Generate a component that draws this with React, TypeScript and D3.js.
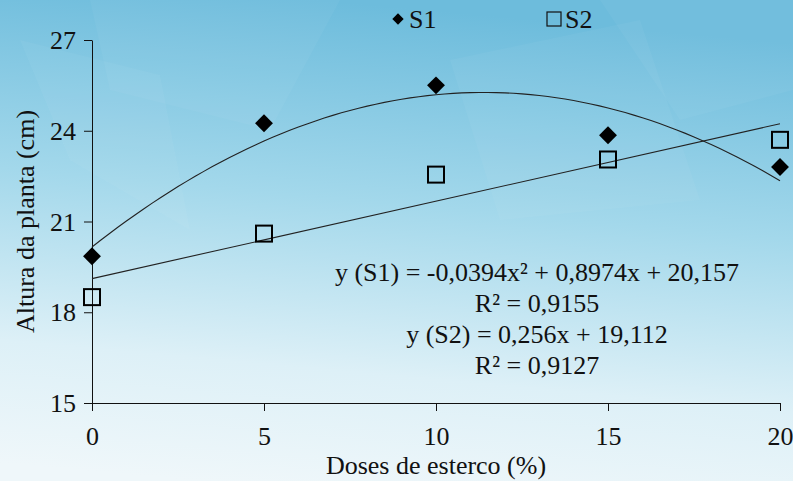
import React, { useEffect, useRef } from "react";
import * as d3 from "d3";

const doses = [0, 5, 10, 15, 20];
const s1Values = [19.85, 24.25, 25.5, 23.85, 22.8];
const s2Values = [18.5, 20.6, 22.55, 23.05, 23.7];
const xTicks = [0, 5, 10, 15, 20];
const yTicks = [15, 18, 21, 24, 27];
const s1Coef = [20.157, 0.8974, -0.0394];
const s2Coef = [19.112, 0.256];
const equationLines = [
  "y (S1) = -0,0394x² + 0,8974x + 20,157",
  "R² = 0,9155",
  "y (S2) = 0,256x + 19,112",
  "R² = 0,9127",
];

const W = 793;
const H = 481;
const FONT = "'Liberation Serif', 'Times New Roman', serif";
const FS = "26px";

const App = () => {
  const svgRef = useRef<SVGSVGElement>(null);

  useEffect(() => {
    const svg = d3.select(svgRef.current);
    svg.selectAll("*").remove();

    const margin = { top: 40, right: 13, bottom: 78, left: 92 };
    const x = d3.scaleLinear().domain([0, 20]).range([margin.left, W - margin.right]);
    const y = d3.scaleLinear().domain([15, 27]).range([H - margin.bottom, margin.top]);

    // fundo
    const defs = svg.append("defs");
    const grad = defs
      .append("linearGradient")
      .attr("id", "bg")
      .attr("x1", "0.4")
      .attr("y1", "0")
      .attr("x2", "0.25")
      .attr("y2", "1");
    grad.append("stop").attr("offset", "0%").attr("stop-color", "#6dbcdc");
    grad.append("stop").attr("offset", "40%").attr("stop-color", "#a3d8eb");
    grad.append("stop").attr("offset", "75%").attr("stop-color", "#ddf0f7");
    grad.append("stop").attr("offset", "100%").attr("stop-color", "#eff7fa");
    svg.append("rect").attr("width", W).attr("height", H).attr("fill", "url(#bg)");

    const shapes = [
      [[90, 0], [340, 0], [270, 130], [110, 90]],
      [[20, 40], [160, 75], [190, 230], [70, 160]],
      [[600, 0], [793, 0], [793, 90], [680, 120]],
      [[450, 60], [640, 20], [700, 200], [500, 220]],
    ];
    svg
      .append("g")
      .selectAll("path")
      .data(shapes)
      .join("path")
      .attr("d", (d) => "M" + d.map((p) => p.join(",")).join("L") + "Z")
      .attr("fill", "#ffffff")
      .attr("opacity", 0.04);

    const g = svg.append("g").style("font-family", FONT);

    // eixos
    const xAxis = g
      .append("g")
      .attr("transform", `translate(0,${y(15)})`)
      .call(d3.axisBottom(x).tickValues(xTicks).tickSize(8).tickSizeOuter(0));
    const yAxis = g
      .append("g")
      .attr("transform", `translate(${x(0)},0)`)
      .call(d3.axisLeft(y).tickValues(yTicks).tickSize(8).tickSizeOuter(0));
    [xAxis, yAxis].forEach((a) => {
      a.selectAll("path, line").attr("stroke", "#111").attr("stroke-width", 1);
      a.selectAll("text")
        .attr("fill", "#111")
        .style("font-family", FONT)
        .style("font-size", FS);
    });
    xAxis.selectAll("text").attr("y", 42).attr("dy", null);
    yAxis.selectAll("text").attr("x", -16).attr("dy", "0.33em");

    g.append("text")
      .attr("x", (x(0) + x(20)) / 2)
      .attr("y", 474)
      .attr("text-anchor", "middle")
      .attr("fill", "#111")
      .style("font-size", FS)
      .text("Doses de esterco (%)");

    g.append("text")
      .attr("transform", `translate(34,${(y(15) + y(27)) / 2}) rotate(-90)`)
      .attr("text-anchor", "middle")
      .attr("fill", "#111")
      .style("font-size", FS)
      .text("Altura da planta (cm)");

    // linhas de tendência
    const xs = d3.range(0, 20.01, 0.25);
    const quad = (v) => s1Coef[0] + s1Coef[1] * v + s1Coef[2] * v * v;
    const lin = (v) => s2Coef[0] + s2Coef[1] * v;
    const line = d3.line<number>().x((d) => x(d));
    g.append("path")
      .attr("d", line.y((d) => y(quad(d)))(xs))
      .attr("fill", "none")
      .attr("stroke", "#222")
      .attr("stroke-width", 1.1);
    g.append("path")
      .attr("d", line.y((d) => y(lin(d)))([0, 20]))
      .attr("fill", "none")
      .attr("stroke", "#222")
      .attr("stroke-width", 1.1);

    // pontos
    const diamond = d3.symbol().type(d3.symbolSquare).size(160);
    g.append("g")
      .selectAll("path")
      .data(doses)
      .join("path")
      .attr("d", diamond)
      .attr("transform", (d, i) => `translate(${x(d)},${y(s1Values[i])}) rotate(45)`)
      .attr("fill", "#000");

    g.append("g")
      .selectAll("rect")
      .data(doses)
      .join("rect")
      .attr("x", (d) => x(d) - 8)
      .attr("y", (d, i) => y(s2Values[i]) - 8)
      .attr("width", 16)
      .attr("height", 16)
      .attr("fill", "none")
      .attr("stroke", "#000")
      .attr("stroke-width", 2);

    // legenda
    const leg = g.append("g");
    leg
      .append("path")
      .attr("d", d3.symbol().type(d3.symbolSquare).size(64)())
      .attr("transform", "translate(398,19) rotate(45)")
      .attr("fill", "#000");
    leg
      .append("text")
      .attr("x", 409)
      .attr("y", 28)
      .attr("fill", "#111")
      .style("font-size", FS)
      .text("S1");
    leg
      .append("rect")
      .attr("x", 547)
      .attr("y", 12)
      .attr("width", 14)
      .attr("height", 14)
      .attr("fill", "none")
      .attr("stroke", "#111")
      .attr("stroke-width", 1.2);
    leg
      .append("text")
      .attr("x", 565)
      .attr("y", 28)
      .attr("fill", "#111")
      .style("font-size", FS)
      .text("S2");

    // equações
    g.append("g")
      .selectAll("text")
      .data(equationLines)
      .join("text")
      .attr("x", 537)
      .attr("y", (d, i) => 281 + i * 31)
      .attr("text-anchor", "middle")
      .attr("fill", "#111")
      .style("font-size", FS)
      .text((d) => d);
  }, []);

  return (
    <svg
      ref={svgRef}
      width={W}
      height={H}
      style={{ position: "absolute", left: 0, top: 0 }}
    ></svg>
  );
};

export default App;
